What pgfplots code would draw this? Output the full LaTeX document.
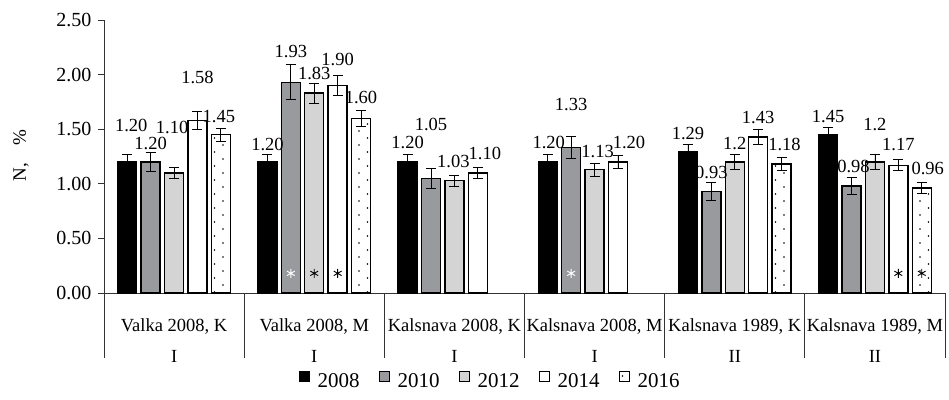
\documentclass[border=0pt]{standalone}
\usepackage{pgfplots}
\pgfplotsset{compat=1.18}
\usepackage{pgfplotstable}
\usepackage{fontspec}
\setmainfont{Liberation Serif}
\usetikzlibrary{patterns}

% sparse staggered dots for the 2016 bars
\pgfdeclarepatternformonly{sparsedots}{\pgfqpoint{-1pt}{-1pt}}{\pgfqpoint{18pt}{15pt}}{\pgfqpoint{17pt}{14pt}}{%
  \pgfpathcircle{\pgfqpoint{2pt}{2pt}}{0.9pt}\pgfusepath{fill}%
  \pgfpathcircle{\pgfqpoint{10.5pt}{9pt}}{0.9pt}\pgfusepath{fill}}

\definecolor{gDark}{RGB}{152,154,157}
\definecolor{gLight}{RGB}{212,212,212}

% x: site index, y: N %, e: error, ly: height of the value label, dx: label shift (pt)
\pgfplotstableread{
x y e ly dx lab
0 1.20 0.07 1.53 4 1.20
1 1.20 0.07 1.36 0 1.20
2 1.20 0.07 1.38 0 1.20
3 1.20 0.07 1.38 1 1.20
4 1.29 0.07 1.46 0 1.29
5 1.45 0.07 1.62 0 1.45
}\tabA
\pgfplotstableread{
x y e ly dx lab
0 1.20 0.09 1.37 0 1.20
1 1.93 0.16 2.21 0 1.93
2 1.05 0.09 1.54 0 1.05
3 1.33 0.10 1.73 0 1.33
4 0.93 0.08 1.10 0 0.93
5 0.98 0.08 1.16 2 0.98
}\tabB
\pgfplotstableread{
x y e ly dx lab
0 1.10 0.05 1.52 -2 1.10
1 1.83 0.09 2.01 0 1.83
2 1.03 0.05 1.20 -1 1.03
3 1.13 0.06 1.30 3 1.13
4 1.20 0.07 1.37 0 1.2
5 1.20 0.07 1.54 0 1.2
}\tabC
\pgfplotstableread{
x y e ly dx lab
0 1.58 0.08 1.97 0 1.58
1 1.90 0.09 2.14 0 1.90
2 1.10 0.05 1.28 7 1.10
3 1.20 0.06 1.38 11 1.20
4 1.43 0.07 1.61 0 1.43
5 1.17 0.05 1.36 0 1.17
}\tabD
\pgfplotstableread{
x y e ly dx lab
0 1.45 0.06 1.62 -2 1.45
1 1.60 0.07 1.79 0 1.60
4 1.18 0.06 1.36 3 1.18
5 0.96 0.05 1.14 6 0.96
}\tabE

\pgfplotsset{
  yearbar/.style={
    draw=black, line width=1.4pt,
    error bars/y dir=both, error bars/y explicit,
    error bars/error bar style={line width=0.8pt, black, solid},
    error bars/error mark options={rotate=90, mark size=5pt, line width=0.8pt, black},
    nodes near coords, point meta=explicit symbolic,
    visualization depends on={(\thisrow{ly}-\thisrow{y})*109.2 \as \dly},
    visualization depends on={\thisrow{dx} \as \dlx},
    every node near coord/.append style={anchor=center, text=black,
      xshift=\dlx pt, yshift=\dly pt, font=\fontsize{18.5}{18.5}\selectfont},
  },
  boxlegend/.style={legend image code/.code={%
    \draw[##1, line width=1pt] (0pt,-1pt) rectangle (10pt,9pt);}},
  frame/.style={scale only axis, width=841pt, height=273pt,
    xmin=-0.5, xmax=5.5, ymin=0, ymax=2.5},
}

\begin{document}
\begin{tikzpicture}
\begin{axis}[
  name=ax, frame,
  ybar=4.4pt, bar width=19pt,
  every axis plot post/.append style={boxlegend},
  clip=false,
  axis x line*=bottom, axis y line*=left,
  axis line style={line width=0.7pt, black!80},
  ytick={0,0.5,1,1.5,2,2.5},
  ytick align=outside, major tick length=6pt,
  ytick style={line width=0.7pt, black!80},
  /pgf/number format/fixed, /pgf/number format/fixed zerofill,
  /pgf/number format/precision=2, /pgf/number format/assume math mode=true,
  y tick label style={font=\fontsize{20}{20}\selectfont, xshift=-3pt},
  xtick={0,1,2,3,4,5},
  xtick style={draw=none},
  xticklabels={{Valka 2008, K\\[12pt]I},{Valka 2008, M\\[12pt]I},{Kalsnava 2008, K\\[12pt]I},{Kalsnava 2008, M\\[12pt]I},{Kalsnava 1989, K\\[12pt]II},{Kalsnava 1989, M\\[12pt]II}},
  x tick label style={align=center, font=\fontsize{18.5}{19}\selectfont, yshift=-16pt},
  ylabel={N,\hspace{0.9em}\%},
  ylabel style={at={(rel axis cs:-0.0987,0.504)}, anchor=center,
    font=\fontsize{19}{19}\selectfont},
  legend columns=5,
  legend style={draw=none, at={(0.459,-0.322)}, anchor=center,
    font=\fontsize{21}{21}\selectfont,
    /tikz/every odd column/.append style={column sep=6pt},
    /tikz/every even column/.append style={column sep=17pt}},
]
\addplot[yearbar, fill=black] table[x=x, y=y, y error=e, meta=lab] {\tabA};
\addlegendentry{2008}
\addplot[yearbar, fill=gDark] table[x=x, y=y, y error=e, meta=lab] {\tabB};
\addlegendentry{2010}
\addplot[yearbar, fill=gLight] table[x=x, y=y, y error=e, meta=lab] {\tabC};
\addlegendentry{2012}
\addplot[yearbar, fill=white] table[x=x, y=y, y error=e, meta=lab] {\tabD};
\addlegendentry{2014}
\addplot[yearbar, pattern=sparsedots, pattern color=black] table[x=x, y=y, y error=e, meta=lab] {\tabE};
\addlegendentry{2016}

% group separators below the axis
\pgfplotsinvokeforeach{-0.5,0.5,1.5,2.5,3.5,4.5,5.5}{
  \draw[line width=0.7pt, black!80] (axis cs:#1,0) -- ++(0pt,-65pt);
}
\end{axis}
% significance marks at the foot of the bars (same frame, no axis drawn)
\begin{axis}[frame, hide axis]
\addplot[only marks, mark=asterisk, mark size=4.5pt, white, line width=0.9pt]
  coordinates {(0.833,0.18) (2.833,0.18)};
\addplot[only marks, mark=asterisk, mark size=4.5pt, black, line width=0.9pt]
  coordinates {(1.0,0.18) (1.167,0.18) (5.167,0.18) (5.334,0.18)};
\end{axis}
\pgfresetboundingbox
\path[use as bounding box] ([xshift=-104pt,yshift=-106pt]ax.south west) rectangle ([xshift=4pt,yshift=20pt]ax.north east);
\end{tikzpicture}
\end{document}
